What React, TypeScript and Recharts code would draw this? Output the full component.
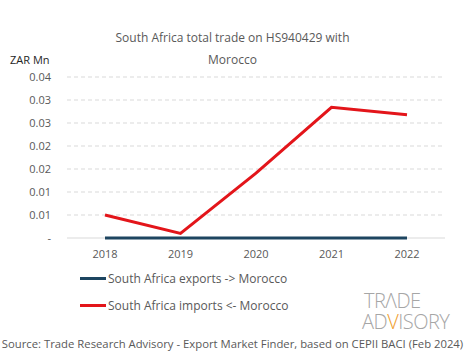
import React from 'react';
import { LineChart, Line, XAxis, YAxis, CartesianGrid } from 'recharts';

const years = ['2018', '2019', '2020', '2021', '2022'];
const exportsToMorocco = [0, 0, 0, 0, 0];
const importsFromMorocco = [0.005, 0.001, 0.0141, 0.0284, 0.0268];
const yTicks = [0, 0.005, 0.01, 0.015, 0.02, 0.025, 0.03, 0.035];

const data = years.map((year, i) => ({
  year,
  exports: exportsToMorocco[i],
  imports: importsFromMorocco[i],
}));

const FONT = '"Open Sans", "DejaVu Sans", sans-serif';
const GREY = '#595959';
const EXPORT_COLOR = '#1d4560';
const IMPORT_COLOR = '#e3151a';
const PLOT_BOTTOM = 238;

const fmt = (v: number) => (v === 0 ? '-' : (Math.round(v * 100 + 1e-9) / 100).toFixed(2));

const legendItems = [
  { label: 'South Africa exports -> Morocco', color: EXPORT_COLOR },
  { label: 'South Africa imports <- Morocco', color: IMPORT_COLOR },
];

// grid lines dashed, the baseline solid (drawn under the series)
const GridLine = (props: any) => {
  const base = Math.abs(props.y1 - PLOT_BOTTOM) < 2;
  return (
    <line
      x1={props.x1}
      x2={props.x2}
      y1={props.y1}
      y2={props.y2}
      stroke="#d9d9d9"
      strokeWidth={1}
      strokeDasharray={base ? undefined : '4 3'}
    />
  );
};

const App = () => {
  return (
    <div style={{ position: 'absolute', left: 0, top: 0, width: 465, height: 359, background: '#fff', fontFamily: FONT }}>
      <div style={{ position: 'absolute', left: 0, width: 465, top: 27, textAlign: 'center', fontSize: 12, color: GREY, lineHeight: '22px' }}>
        South Africa total trade on HS940429 with
        <br />
        Morocco
      </div>
      <div style={{ position: 'absolute', left: 10, top: 52, fontSize: 11, color: '#262626' }}>ZAR Mn</div>
      <LineChart width={465} height={359} data={data} margin={{ top: 77, right: 20, bottom: 91, left: 0 }}>
        <CartesianGrid vertical={false} horizontal={(p: any) => <GridLine key={p.key} {...p} />} />
        <XAxis
          dataKey="year"
          tickLine={false}
          axisLine={false}
          tick={{ fill: GREY, fontSize: 11, fontFamily: FONT }}
          tickMargin={6}
          height={30}
          padding={{ left: 38, right: 38 }}
        />
        <YAxis
          width={67}
          domain={[0, 0.035]}
          ticks={yTicks}
          tickFormatter={fmt}
          axisLine={false}
          tickLine={false}
          tickMargin={10}
          tick={{ fill: GREY, fontSize: 11, fontFamily: FONT }}
          interval={0}
        />
        <Line type="linear" dataKey="exports" stroke={EXPORT_COLOR} strokeWidth={3} dot={false} isAnimationActive={false} />
        <Line type="linear" dataKey="imports" stroke={IMPORT_COLOR} strokeWidth={3} dot={false} isAnimationActive={false} />
      </LineChart>
      <div style={{ position: 'absolute', left: 80, top: 265, fontSize: 12, color: GREY }}>
        {legendItems.map((it) => (
          <div key={it.label} style={{ display: 'flex', alignItems: 'center', height: 27 }}>
            <span style={{ display: 'inline-block', width: 26, height: 3, background: it.color, marginRight: 2 }} />
            <span>{it.label}</span>
          </div>
        ))}
      </div>
      <div style={{ position: 'absolute', left: 362, top: 290, width: 100, fontSize: 20, color: '#a6a6a6', fontWeight: 300, lineHeight: '21px', letterSpacing: -0.5 }}>
        <div style={{ paddingLeft: 2, height: 21 }}>TRΛDE</div>
        <div style={{ height: 21 }}>
          AD<span style={{ color: '#f0a030' }}>V</span>ISORY
        </div>
      </div>
      <div style={{ position: 'absolute', left: 0, width: 465, top: 336, textAlign: 'center', fontSize: 11.3, color: GREY, whiteSpace: 'nowrap' }}>
        Source: Trade Research Advisory - Export Market Finder, based on CEPII BACI (Feb 2024)
      </div>
    </div>
  );
};

export default App;
